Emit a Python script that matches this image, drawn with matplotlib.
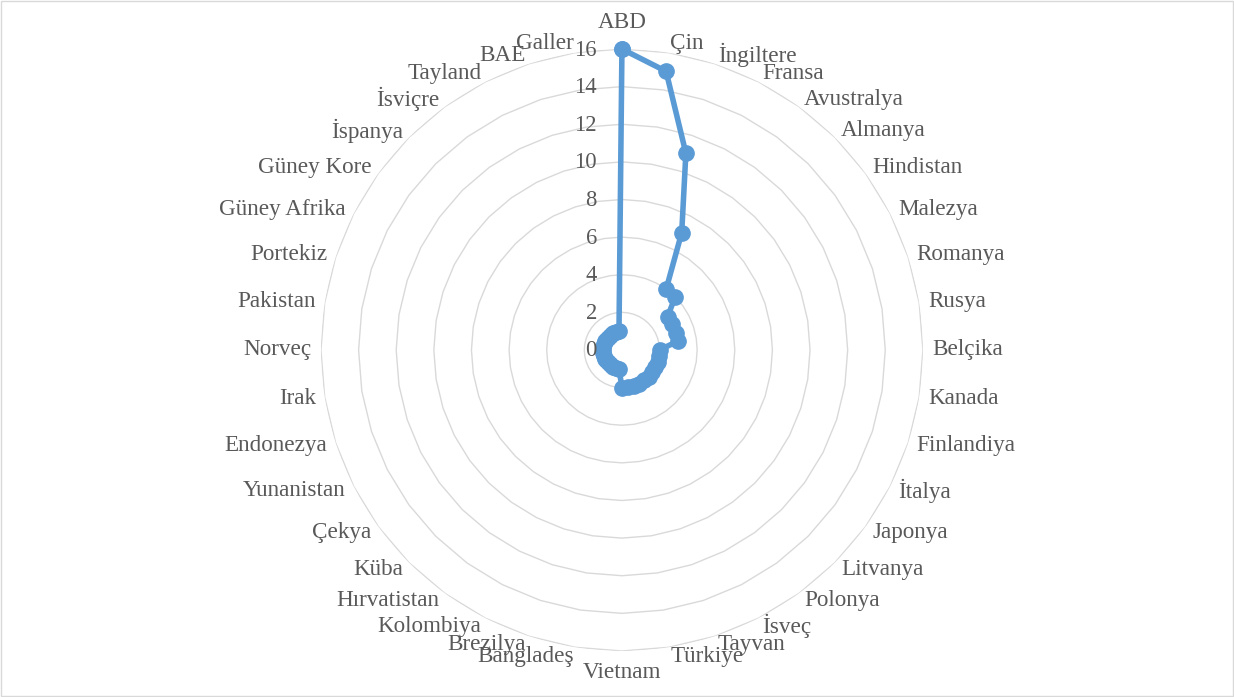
import numpy as np
import matplotlib.pyplot as plt
from matplotlib.transforms import offset_copy

plt.rcParams['font.family'] = ['Liberation Serif', 'DejaVu Serif']

countries = ['ABD', 'Çin', 'İngiltere', 'Fransa', 'Avustralya', 'Almanya', 'Hindistan',
             'Malezya', 'Romanya', 'Rusya', 'Belçika', 'Kanada', 'Finlandiya', 'İtalya',
             'Japonya', 'Litvanya', 'Polonya', 'İsveç', 'Tayvan', 'Türkiye', 'Vietnam',
             'Bangladeş', 'Brezilya', 'Kolombiya', 'Hırvatistan', 'Küba', 'Çekya',
             'Yunanistan', 'Endonezya', 'Irak', 'Norveç', 'Pakistan', 'Portekiz',
             'Güney Afrika', 'Güney Kore', 'İspanya', 'İsviçre', 'Tayland', 'BAE', 'Galler']
values = [16, 15, 11, 7, 4, 4, 3, 3, 3, 3,
          2, 2, 2, 2, 2, 2, 2, 2, 2, 2, 2,
          1, 1, 1, 1, 1, 1, 1, 1, 1, 1, 1, 1, 1, 1, 1, 1, 1, 1, 1]
rings = [0, 2, 4, 6, 8, 10, 12, 14, 16]

txt_col = '#595959'
line_col = '#5B9BD5'
grid_col = '#D9D9D9'
lab_fs = 16.7
tick_fs = 16.3

n = len(countries)
theta = np.arange(n) * 2 * np.pi / n
theta_c = np.append(theta, theta[0])

fig = plt.figure(figsize=(12.34, 6.97), dpi=100)
fig.patches.append(plt.Rectangle((0.001, 0.001), 0.998, 0.997, transform=fig.transFigure,
                                 fill=False, edgecolor=grid_col, linewidth=1))
ax = fig.add_axes([0.2601, 0.0660, 0.4878, 0.8637], projection='polar')
ax.set_theta_zero_location('N')
ax.set_theta_direction(-1)
ax.set_ylim(0, 16)
ax.grid(False)
ax.set_xticks([])
ax.set_yticks([])
ax.spines['polar'].set_visible(False)
ax.patch.set_alpha(0)

# polygon gridlines like excel
for r in rings[1:]:
    ax.plot(theta_c, [r] * (n + 1), color=grid_col, linewidth=1, zorder=1)

vals_c = values + values[:1]
ax.plot(theta_c, vals_c, color=line_col, linewidth=4, marker='o', markersize=11,
        solid_joinstyle='round', zorder=3, clip_on=False)

# radial labels left of the ABD spoke
tr = offset_copy(ax.transData, fig=fig, x=-25, y=-1, units='dots')
for r in rings:
    ax.text(0, r, str(r), transform=tr, ha='right', va='center', fontsize=tick_fs, color=txt_col)

# category labels
for t, name in zip(theta, countries):
    s = np.sin(t)
    if abs(s) < 1e-6:
        if np.cos(t) > 0:
            ax.text(t, 16.85, name, ha='center', va='bottom', fontsize=lab_fs, color=txt_col)
        else:
            ax.text(t, 16.6, name, ha='center', va='top', fontsize=lab_fs, color=txt_col)
    else:
        ax.text(t, 16.48, name, ha='left' if s > 0 else 'right', va='center',
                fontsize=lab_fs, color=txt_col)

fig.savefig('out.png', dpi=100)
